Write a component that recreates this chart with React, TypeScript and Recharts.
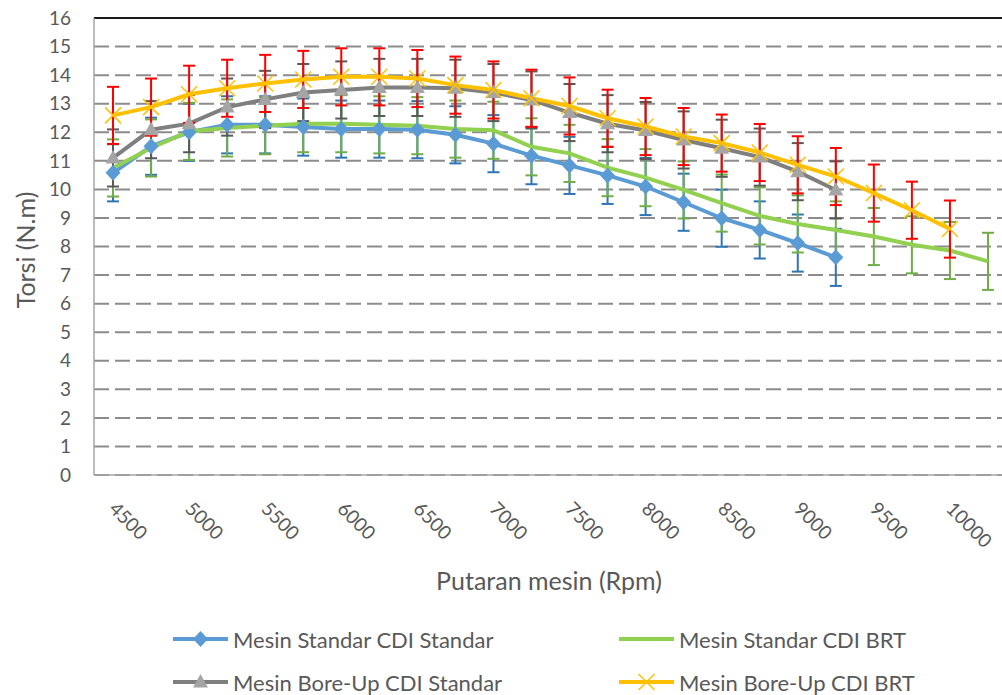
import { ComposedChart, Line, XAxis, YAxis, CartesianGrid, ErrorBar, Legend, ReferenceLine, Label } from "recharts";

const rpm = ["4500", "4750", "5000", "5250", "5500", "5750", "6000", "6250", "6500", "6750", "7000", "7250",
  "7500", "7750", "8000", "8250", "8500", "8750", "9000", "9250", "9500", "9750", "10000", "10250"];

const standarCdiStandar = [10.58, 11.51, 12.0, 12.26, 12.26, 12.18, 12.11, 12.11, 12.09, 11.91, 11.6, 11.18,
  10.84, 10.49, 10.1, 9.55, 8.99, 8.58, 8.12, 7.62];
const standarCdiBrt = [10.75, 11.45, 12.03, 12.15, 12.23, 12.3, 12.3, 12.26, 12.23, 12.11, 12.07, 11.49,
  11.26, 10.76, 10.41, 9.98, 9.52, 9.07, 8.79, 8.58, 8.35, 8.06, 7.86, 7.48];
const boreUpCdiStandar = [11.1, 12.09, 12.3, 12.88, 13.15, 13.39, 13.48, 13.57, 13.57, 13.54, 13.39, 13.13,
  12.69, 12.3, 12.06, 11.73, 11.44, 11.13, 10.62, 9.98];
const boreUpCdiBrt = [12.59, 12.88, 13.33, 13.54, 13.71, 13.85, 13.94, 13.94, 13.88, 13.65, 13.48, 13.19,
  12.92, 12.49, 12.2, 11.85, 11.62, 11.29, 10.86, 10.45, 9.87, 9.27, 8.61];

// error bars are a fixed +/- 1 N.m on every point
const errorMargin = 1;
const yTicks = [0, 1, 2, 3, 4, 5, 6, 7, 8, 9, 10, 11, 12, 13, 14, 15, 16];

const series = [
  { key: "s1", name: "Mesin Standar CDI Standar", values: standarCdiStandar, color: "#5B9BD5", errColor: "#2E75B6", marker: "diamond" },
  { key: "s2", name: "Mesin Standar CDI BRT", values: standarCdiBrt, color: "#92D050", errColor: "#70AD47", marker: "none" },
  { key: "s3", name: "Mesin Bore-Up CDI Standar", values: boreUpCdiStandar, color: "#7F7F7F", errColor: "#595959", marker: "triangle" },
  { key: "s4", name: "Mesin Bore-Up CDI BRT", values: boreUpCdiBrt, color: "#FFC000", errColor: "#FF0000", marker: "cross" },
];

const data = rpm.map((r, i) => {
  const row: Record<string, string | number | null> = { rpm: r };
  series.forEach((s) => {
    const v = i < s.values.length ? s.values[i] : null;
    row[s.key] = v;
    row[s.key + "Err"] = v == null ? null : errorMargin;
  });
  return row;
});

const font = "Lato, 'Open Sans', sans-serif";
const textColor = "#595959";

function Marker({ type, cx, cy }: { type: string; cx: number; cy: number }) {
  if (type === "diamond")
    return <polygon points={`${cx},${cy - 8} ${cx + 7.5},${cy} ${cx},${cy + 8} ${cx - 7.5},${cy}`} fill="#5B9BD5" />;
  if (type === "triangle")
    return <polygon points={`${cx},${cy - 8} ${cx + 7.5},${cy + 5.5} ${cx - 7.5},${cy + 5.5}`} fill="#A5A5A5" />;
  if (type === "cross")
    return (
      <g stroke="#FFC000" strokeWidth={1.5}>
        <line x1={cx - 8} y1={cy - 8} x2={cx + 8} y2={cy + 8} />
        <line x1={cx - 8} y1={cy + 8} x2={cx + 8} y2={cy - 8} />
      </g>
    );
  return null;
}

function XTick({ x, y, payload }: any) {
  const tx = x - 5;
  const ty = y + 33;
  return (
    <text x={tx} y={ty} transform={`rotate(45 ${tx} ${ty})`} fontFamily={font} fontSize={19} fill={textColor}>
      {payload.value}
    </text>
  );
}

function LegendBox() {
  return (
    <div style={{ position: "relative", width: 1002, height: 80, fontFamily: font, fontSize: 22, color: textColor }}>
      {series.map((s, i) => (
        <div
          key={s.key}
          style={{
            position: "absolute",
            left: i % 2 === 0 ? 173 : 619,
            top: i < 2 ? 11 : 54,
            height: 26,
            display: "flex",
            alignItems: "center",
            whiteSpace: "nowrap",
          }}
        >
          <svg width={58} height={20}>
            <line x1={0} y1={10} x2={55} y2={10} stroke={s.color} strokeWidth={4} />
            <Marker type={s.marker} cx={27.5} cy={10} />
          </svg>
          <span style={{ marginLeft: 2 }}>{s.name}</span>
        </div>
      ))}
    </div>
  );
}

export default function App() {
  return (
    <div style={{ position: "absolute", left: 0, top: 0, width: 1002, height: 695, overflow: "hidden", background: "#fff" }}>
      <ComposedChart width={1010} height={695} data={data} margin={{ top: 18, right: 3, bottom: 0, left: 0 }}>
        <CartesianGrid vertical={false} stroke="#8C8C8C" strokeWidth={2} strokeDasharray="15 6" />
        <ReferenceLine y={16} stroke="#1a1a1a" strokeWidth={2} />
        <XAxis
          dataKey="rpm"
          scale="band"
          interval={1}
          height={140}
          tickLine={false}
          tickSize={0}
          tick={<XTick />}
          axisLine={{ stroke: "#A6A6A6", strokeWidth: 1.5 }}
        >
          <Label
            content={() => (
              <text x={549} y={590} textAnchor="middle" fontFamily={font} fontSize={25} fill={textColor}>
                Putaran mesin (Rpm)
              </text>
            )}
          />
        </XAxis>
        <YAxis
          width={94}
          domain={[0, 16]}
          ticks={yTicks}
          interval={0}
          tickLine={false}
          tickSize={0}
          tickMargin={23}
          axisLine={{ stroke: "#A6A6A6", strokeWidth: 1.5 }}
          tick={{ fontFamily: font, fontSize: 19, fill: textColor }}
        >
          <Label
            content={() => (
              <text x={25} y={250} transform="rotate(-90 25 250)" textAnchor="middle" dominantBaseline="central"
                fontFamily={font} fontSize={25} fill={textColor}>
                Torsi (N.m)
              </text>
            )}
          />
        </YAxis>
        <Legend verticalAlign="bottom" content={<LegendBox />} wrapperStyle={{ left: 0, bottom: 0, width: 1002, height: 80 }} />
        {series.map((s) => (
          <Line
            key={s.key}
            dataKey={s.key}
            name={s.name}
            type="linear"
            stroke={s.color}
            strokeWidth={4}
            isAnimationActive={false}
            activeDot={false}
            dot={(p: any) =>
              p.cx == null || p.cy == null || p.value == null ? (
                <g key={p.index} />
              ) : (
                <g key={p.index}>
                  <Marker type={s.marker} cx={p.cx} cy={p.cy} />
                </g>
              )
            }
          >
            <ErrorBar dataKey={s.key + "Err"} width={6} stroke={s.errColor} strokeWidth={2} direction="y" isAnimationActive={false} />
          </Line>
        ))}
      </ComposedChart>
    </div>
  );
}
